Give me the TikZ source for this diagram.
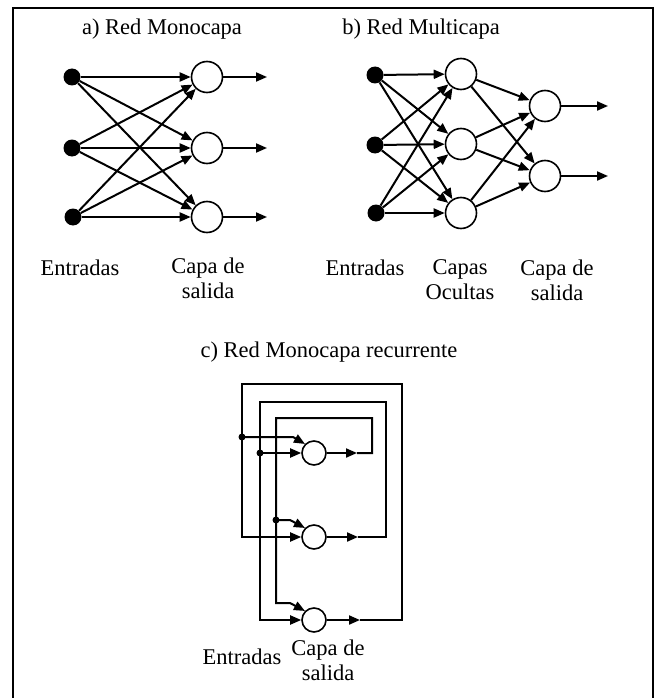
\documentclass[tikz,border=0pt]{standalone}
\usepackage{fontspec}
\setmainfont{Liberation Serif}
\usetikzlibrary{arrows.meta}
\begin{document}
\begin{tikzpicture}[x=1pt,y=-1pt,
  neuron/.style={circle,draw,line width=1.6pt,minimum size=31pt,inner sep=0pt},
  smallneuron/.style={circle,draw,line width=1.6pt,minimum size=24pt,inner sep=0pt},
  inp/.style={circle,fill=black,minimum size=17pt,inner sep=0pt},
  jdot/.style={circle,fill=black,minimum size=7pt,inner sep=0pt},
  arr/.style={line width=2pt,-{Triangle[length=11pt,width=9pt]}},
  lbl/.style={font=\fontsize{22.5}{25}\selectfont,align=center,inner sep=0pt},
]
\useasboundingbox (0,0) rectangle (655,698);
\draw[line width=2pt] (13,700) -- (13,8) -- (653,8) -- (653,700);

% ---------- a) ----------
\node[lbl] (ta) at (162,29) {a) Red Monocapa};
\node[inp] (a1) at (72,77) {};
\node[inp] (a2) at (72,148) {};
\node[inp] (a3) at (73,217) {};
\node[neuron] (an1) at (207,77) {};
\node[neuron] (an2) at (207,148) {};
\node[neuron] (an3) at (207,217) {};
\foreach \i in {1,2,3}{\foreach \j in {1,2,3}{\draw[arr] (a\i) -- (an\j);}}
\coordinate (ao1) at (267,77);
\coordinate (ao2) at (267,148);
\coordinate (ao3) at (267,217);
\foreach \j in {1,2,3}{\draw[arr] (an\j) -- (ao\j);}
\node[lbl] (la1) at (80,268) {Entradas};
\node[lbl] (la2) at (208,278) {Capa de\\salida};

% ---------- b) ----------
\node[lbl] (tb) at (421,29) {b) Red Multicapa};
\node[inp] (b1) at (375,75) {};
\node[inp] (b2) at (375,145) {};
\node[inp] (b3) at (376,213) {};
\node[neuron] (bh1) at (461,74) {};
\node[neuron] (bh2) at (461,144) {};
\node[neuron] (bh3) at (461,213) {};
\node[neuron] (bo1) at (545,106) {};
\node[neuron] (bo2) at (545,176) {};
\foreach \i in {1,2,3}{\foreach \j in {1,2,3}{\draw[arr] (b\i) -- (bh\j);}}
\foreach \i in {1,2,3}{\foreach \j in {1,2}{\draw[arr] (bh\i) -- (bo\j);}}
\coordinate (bx1) at (608,106);
\coordinate (bx2) at (608,176);
\foreach \j in {1,2}{\draw[arr] (bo\j) -- (bx\j);}
\node[lbl] (lb1) at (365,268) {Entradas};
\node[lbl] (lb2) at (460,280) {Capas\\Ocultas};
\node[lbl] (lb3) at (557,280) {Capa de\\salida};

% ---------- c) ----------
\node[lbl] (tc) at (329,352) {c) Red Monocapa recurrente};
\node[smallneuron] (c1) at (314,453) {};
\node[smallneuron] (c2) at (314,537) {};
\node[smallneuron] (c3) at (314,620) {};
\coordinate (c1m) at (357,453);
\coordinate (c2m) at (358,537);
\coordinate (c3m) at (360,620);
\node[jdot] (d1) at (242,437) {};
\node[jdot] (d2) at (260,453) {};
\node[jdot] (d3) at (276,520) {};
% neuron 1 output loop
\draw[arr] (c1) -- (c1m);
\draw[arr] (c1m) -- (372,453) -- (372,418) -- (276,418) -- (276,603) -- (290,603) -- (c3.135);
\draw[arr] (d3.center) -- (290,520) -- (c2.135);
% neuron 2 output loop
\draw[arr] (c2) -- (c2m);
\draw[arr] (c2m) -- (386,537) -- (386,402) -- (260,402) -- (260,620) -- (c3.west);
\draw[arr] (d2.center) -- (c1.west);
% neuron 3 output loop
\draw[arr] (c3) -- (c3m);
\draw[arr] (c3m) -- (402,620) -- (402,384) -- (242,384) -- (242,537) -- (c2.west);
\draw[arr] (d1.center) -- (293,437) -- (c1.135);
\node[lbl] (lc1) at (242,657) {Entradas};
\node[lbl] (lc2) at (328,660) {Capa de\\salida};
\end{tikzpicture}
\end{document}
